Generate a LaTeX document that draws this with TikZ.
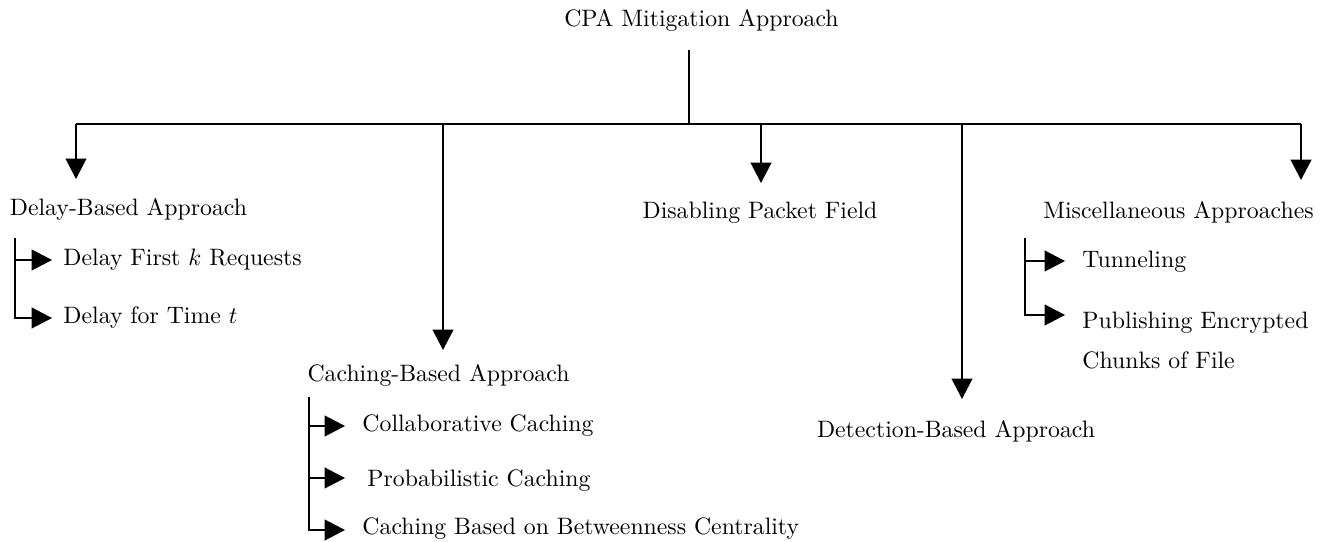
\documentclass[tikz,border=0pt]{standalone}
\usetikzlibrary{arrows.meta}
\begin{document}
\begin{tikzpicture}[x=0.4209pt, y=-0.4209pt,
  every node/.style={inner sep=0pt},
  link/.style={line width=0.6pt},
  arr/.style={link, -{Triangle[length=8.6pt,width=8.8pt]}}]
\useasboundingbox (0,0) rectangle (1333,542);

% --- labels ---
\node (root) at (701.5,20) {CPA Mitigation Approach};

\node (delay) at (128.5,209) {Delay-Based Approach};
\node[anchor=west] (d1) at (63,260) {Delay First $k$ Requests};
\node[anchor=west] (d2) at (63,318) {Delay for Time $t$};

\node (caching) at (438.5,375) {Caching-Based Approach};
\node[anchor=west] (c1) at (362,426) {Collaborative Caching};
\node[anchor=west] (c2) at (367,481) {Probabilistic Caching};
\node[anchor=west] (c3) at (362,529) {Caching Based on Betweenness Centrality};

\node (disabling) at (760,213) {Disabling Packet Field};

\node (detection) at (956,431) {Detection-Based Approach};

\node (misc) at (1178.5,212) {Miscellaneous Approaches};
\node[anchor=west] (m1) at (1082,262) {Tunneling};
% two-line item: the base anchor sits on the last line
\node[anchor=base west, align=left] (m2) at (1082,369) {Publishing Encrypted\\[5pt]Chunks of File};

% --- main bus ---
\coordinate (stem) at (689,50);
\coordinate (bus0) at (689,124);
\coordinate (busL) at (76,124);
\coordinate (busC) at (443,124);
\coordinate (busDis) at (761,124);
\coordinate (busDet) at (962,124);
\coordinate (busR) at (1301,124);

\coordinate (tipDelay) at (76,179);
\coordinate (tipCaching) at (443,350);
\coordinate (tipDis) at (761,183);
\coordinate (tipDet) at (962,399);
\coordinate (tipMisc) at (1301,180);

\draw[link] (stem) -- (bus0);
\draw[link] (busL) -- (busR);
\draw[arr] (busL) -- (tipDelay);
\draw[arr] (busC) -- (tipCaching);
\draw[arr] (busDis) -- (tipDis);
\draw[arr] (busDet) -- (tipDet);
\draw[arr] (busR) -- (tipMisc);

% --- delay sub-items ---
\coordinate (sD) at (15,238);
\coordinate (sD1) at (15,260);
\coordinate (tD1) at (52,260);
\coordinate (tD2) at (52,318);
\draw[arr] (sD1) -- (tD1);
\draw[arr] (sD) |- (tD2);

% --- caching sub-items ---
\coordinate (sC) at (309,397);
\coordinate (sC1) at (309,426);
\coordinate (sC2) at (309,478);
\coordinate (tC1) at (345,426);
\coordinate (tC2) at (345,478);
\coordinate (tC3) at (345,530);
\draw[arr] (sC1) -- (tC1);
\draw[arr] (sC2) -- (tC2);
\draw[arr] (sC) |- (tC3);

% --- miscellaneous sub-items ---
\coordinate (sM) at (1025,238);
\coordinate (sM1) at (1025,261);
\coordinate (tM1) at (1065,261);
\coordinate (tM2) at (1065,315);
\draw[arr] (sM1) -- (tM1);
\draw[arr] (sM) |- (tM2);
\end{tikzpicture}
\end{document}
